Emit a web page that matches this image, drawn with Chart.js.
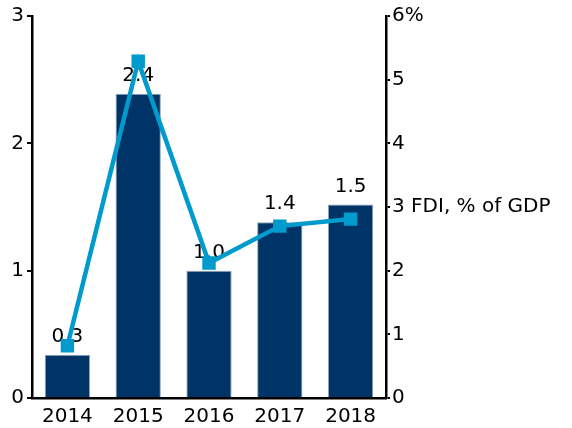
<!DOCTYPE html>
<html>
<head>
<meta charset="utf-8">
<script src="https://cdn.jsdelivr.net/npm/chart.js@4/dist/chart.umd.min.js"></script>
<style>
html,body{margin:0;padding:0;background:#fff;}
#wrap{width:572px;height:428px;position:relative;}
</style>
</head>
<body>
<div id="wrap"><canvas id="c" width="572" height="428"></canvas></div>
<script>
const years = ['2014', '2015', '2016', '2017', '2018'];
const fdiBillion = [0.34, 2.39, 1.0, 1.38, 1.52];
const fdiLabels = ['0.3', '2.4', '1.0', '1.4', '1.5'];
const fdiPctGdp = [0.82, 5.29, 2.12, 2.70, 2.81];
const leftTicks = [0, 1, 2, 3];
const rightTickText = {6: '6%', 3: '3 FDI, % of GDP'};

const FONT = {family: 'DejaVu Sans', size: 20};

const labelPlugin = {
  id: 'barLabels',
  afterDatasetDraw(chart, args) {
    if (args.index !== 0) return;
    const ctx = chart.ctx;
    const meta = chart.getDatasetMeta(0);
    ctx.save();
    ctx.font = FONT.size + 'px ' + FONT.family;
    ctx.fillStyle = '#000';
    ctx.textAlign = 'center';
    ctx.textBaseline = 'middle';
    meta.data.forEach((bar, i) => {
      ctx.fillText(fdiLabels[i], bar.x, bar.y - 18);
    });
    ctx.restore();
  }
};

new Chart(document.getElementById('c'), {
  data: {
    labels: years,
    datasets: [
      {
        type: 'bar',
        data: fdiBillion,
        yAxisID: 'y',
        backgroundColor: '#003466',
        borderColor: '#8ea3bd',
        borderWidth: 1,
        barPercentage: 0.64,
        categoryPercentage: 1,
        order: 1
      },
      {
        type: 'line',
        data: fdiPctGdp,
        yAxisID: 'y2',
        borderColor: '#009ACD',
        backgroundColor: '#009ACD',
        borderWidth: 4.5,
        pointStyle: 'rect',
        pointRadius: 9.5,
        pointBorderWidth: 0,
        tension: 0,
        order: 0
      }
    ]
  },
  options: {
    responsive: false,
    animation: false,
    devicePixelRatio: 1,
    layout: {padding: {top: 16, left: 0, right: 0, bottom: 0}},
    plugins: {legend: {display: false}, tooltip: {enabled: false}},
    scales: {
      x: {
        grid: {display: false, drawTicks: false},
        border: {display: true, color: '#000', width: 2.5},
        ticks: {font: FONT, color: '#000', padding: 7},
        afterFit(s) { s.height = 30; }
      },
      y: {
        position: 'left',
        min: 0, max: 3,
        afterBuildTicks(s) { s.ticks = leftTicks.map(v => ({value: v})); },
        grid: {drawOnChartArea: false, tickLength: 5, color: '#000', lineWidth: 2},
        border: {display: true, color: '#000', width: 2.5},
        ticks: {font: FONT, color: '#000', padding: 3},
        afterFit(s) { s.width = 32; }
      },
      y2: {
        position: 'right',
        min: 0, max: 6,
        ticks: {
          stepSize: 1, font: FONT, color: '#000', padding: 2,
          callback(v) { return rightTickText[v] !== undefined ? rightTickText[v] : String(v); }
        },
        grid: {drawOnChartArea: false, tickLength: 4, color: '#000', lineWidth: 2},
        border: {display: true, color: '#000', width: 2.5},
        afterFit(s) { s.width = 186; }
      }
    }
  },
  plugins: [labelPlugin]
});
</script>
</body>
</html>
